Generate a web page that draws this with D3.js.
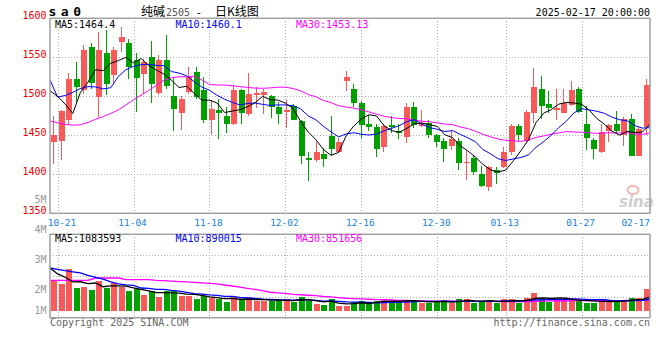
<!DOCTYPE html>
<html><head><meta charset="utf-8">
<script src="https://cdn.jsdelivr.net/npm/d3@7/dist/d3.min.js"></script>
<style>body{margin:0;background:#fff;}svg{display:block;}</style>
</head><body><svg id="c" width="660" height="360"></svg>
<script>
const dates = ["10-18","10-21","10-22","10-23","10-24","10-25","10-28","10-29","10-30","10-31","11-01",
"11-04","11-05","11-06","11-07","11-08","11-11","11-12","11-13","11-14","11-15",
"11-18","11-19","11-20","11-21","11-22","11-25","11-26","11-27","11-28","11-29",
"12-02","12-03","12-04","12-05","12-06","12-09","12-10","12-11","12-12","12-13",
"12-16","12-17","12-18","12-19","12-20","12-23","12-24","12-25","12-26","12-27",
"12-30","12-31","01-02","01-03","01-06","01-07","01-08","01-09","01-10",
"01-13","01-14","01-15","01-16","01-17","01-20","01-21","01-22","01-23","01-24",
"01-27","02-05","02-06","02-07","02-10","02-11","02-12","02-13","02-14","02-17"];
const openP  = [1441,1443,1470,1522,1508,1563,1499,1555,1527,1569,1568,1547,1528,1550,1504,1547,1500,1478,1505,1531,
1508,1469,1482,1475,1465,1508,1477,1502,1502,1500,1486,1480,1487,1468,1421,1418,1426,1449,1429,1520,
1510,1491,1464,1461,1435,1463,1455,1448,1486,1462,1466,1450,1443,1436,1443,1414,1421,1400,1384,1406,
1409,1428,1462,1443,1479,1509,1490,1482,1479,1489,1510,1465,1444,1428,1455,1465,1450,1471,1424,1461];
const highP  = [1475,1483,1530,1544,1566,1568,1583,1585,1563,1589,1573,1555,1548,1571,1553,1578,1523,1500,1538,1538,
1525,1495,1496,1486,1515,1510,1530,1512,1510,1502,1493,1495,1490,1470,1428,1442,1434,1475,1446,1532,
1516,1494,1476,1465,1465,1475,1465,1492,1493,1482,1469,1452,1446,1457,1446,1431,1425,1411,1411,1410,
1435,1465,1465,1483,1536,1526,1507,1509,1510,1519,1512,1488,1447,1465,1465,1481,1474,1477,1461,1522];
const lowP   = [1413,1418,1465,1493,1503,1510,1473,1502,1516,1557,1522,1480,1503,1491,1502,1509,1455,1457,1503,1497,
1466,1450,1445,1453,1463,1465,1475,1485,1477,1472,1465,1459,1469,1413,1392,1416,1409,1423,1427,1507,
1486,1446,1456,1422,1428,1453,1445,1440,1460,1461,1447,1435,1416,1431,1406,1393,1399,1384,1378,1387,
1408,1425,1442,1441,1466,1471,1479,1470,1478,1487,1478,1431,1419,1427,1441,1452,1436,1423,1423,1450];
const closeP = [1450,1481,1522,1512,1559,1517,1560,1516,1560,1576,1538,1524,1544,1516,1546,1513,1484,1497,1525,1499,
1470,1484,1479,1464,1508,1479,1503,1504,1506,1486,1477,1483,1470,1423,1418,1429,1419,1433,1441,1525,
1492,1463,1461,1433,1462,1461,1453,1486,1463,1466,1450,1442,1432,1445,1415,1416,1403,1385,1409,1402,
1428,1462,1450,1480,1512,1488,1485,1485,1491,1508,1480,1447,1432,1454,1463,1455,1471,1424,1458,1514];
// volume, millions of lots
const volume = [2.37,2.11,3.29,1.79,1.87,1.63,2.34,1.82,2.15,1.84,1.55,1.68,1.24,1.55,1.08,1.58,1.55,1.18,1.18,0.92,
1.18,1.03,0.89,0.71,1.05,0.84,1.05,0.77,0.77,0.73,0.89,0.92,0.69,1.10,0.73,0.55,0.45,0.92,0.37,0.37,
0.71,0.77,0.63,0.77,0.84,0.77,0.71,0.84,0.77,0.61,0.58,0.77,0.84,0.58,0.92,0.92,0.58,0.77,0.77,0.63,
0.92,0.92,0.63,1.03,1.42,1.03,0.71,0.84,0.92,0.84,0.77,0.63,0.63,0.84,0.77,0.85,0.79,1.02,1.03,1.70];
// moving-average values before enough history is visible
const ma5Head  = [1507,1500,1490,1478];
const ma10Head = [1521,1499,1501,1505,1510,1512.4,1512,1509.5,1511];
const ma30Head = [1468.4,1466,1464,1463,1463.5,1466.5,1470.5,1474,1478,1482.5,1489,1495.5,1501.5,1507.5,1514,
1520.5,1524,1525,1525,1525.8,1521,1515,1514.5,1514.5,1513.5,1512.4,1511.4,1510.5,1510.3];
const vma5Head  = [3.37,2.9,2.64,2.27];
const vma10Head = [3.37,3.27,3.16,3.07,2.98,2.78,2.64,2.5,2.27];
const vma30Head = [2.4,2.4,2.4,2.4,2.4,2.4,2.58,2.58,2.58,2.58,2.45,2.45,2.45,2.45,2.4,2.37,2.33,2.3,2.27,
2.23,2.19,2.15,2.11,2.03,1.95,1.86,1.77,1.68,1.58];
const priceTicks = [1350,1400,1450,1500,1550,1600];
const volTicks = [1,2,3,4,5];
const volTickLabels = ["1M","2M","3M","4M","5M"];
const dateTicks = ["10-21","11-04","11-18","12-02","12-16","12-30","01-13","01-27","02-17"];
const priceMaLabels = ["MA5:1464.4","MA10:1460.1","MA30:1453.13"];
const volMaLabels = ["MA5:1083593","MA10:890015","MA30:851656"];
const titleSymbol = "sa0";
const titleName = "纯碱";
const titleCode = "2505";
const titleKind = "日K线图";
const stamp = "2025-02-17 20:00:00";

function ma(arr, p, head){
  return arr.map((v,i)=> i < p-1 ? head[i] : d3.mean(arr.slice(i-p+1,i+1)));
}
const ma5 = ma(closeP,5,ma5Head), ma10 = ma(closeP,10,ma10Head), ma30 = ma(closeP,30,ma30Head);
const vma5 = ma(volume,5,vma5Head), vma10 = ma(volume,10,vma10Head), vma30 = ma(volume,30,vma30Head);

const n = closeP.length;
const X0=50, X1=650, PT=18.3, PB=213.3, VT=234.3, VB=317.7;
const RED="#f85a5a", GREEN="#00a000";
const MONO="'DejaVu Sans Mono','Liberation Mono',monospace";
const CJK="'Noto Sans CJK SC','Noto Sans',sans-serif";
const svg = d3.select("#c");

const xB = d3.scaleBand().domain(d3.range(n)).range([X0,X1]);   // candles & bars
const xG = d3.scalePoint().domain(d3.range(n)).range([X0,X1]);  // grid & MA lines
const yP = d3.scaleLinear().domain([1350,1600]).range([PB,PT]);
const yV = d3.scaleLinear().domain([0,6]).range([310.7,234.7]);
const yVL = d3.scaleLinear().domain([4,3]).range([VT,VT+30]);

const defs = svg.append("defs");
defs.append("clipPath").attr("id","cp").append("rect").attr("x",X0).attr("y",PT).attr("width",X1-X0).attr("height",PB-PT);
defs.append("clipPath").attr("id","cv").append("rect").attr("x",X0).attr("y",VT).attr("width",X1-X0).attr("height",VB-VT);

// grid
const grid = svg.append("g").attr("stroke","#b0b0b0").attr("stroke-dasharray","1,2").attr("shape-rendering","crispEdges");
priceTicks.filter(t=>t>1350&&t<1600).forEach(t=>{
  grid.append("line").attr("x1",X0).attr("x2",X1).attr("y1",Math.round(yP(t))+0.5).attr("y2",Math.round(yP(t))+0.5);
});
[1,2,3].forEach(k=>{
  const y = Math.round(VT + k*(VB-VT)/4)+0.5;
  grid.append("line").attr("x1",X0).attr("x2",X1).attr("y1",y).attr("y2",y);
});
dateTicks.forEach(t=>{
  const x = Math.round(xG(dates.indexOf(t)))+0.5;
  if (x < X1-2) {
    grid.append("line").attr("x1",x).attr("x2",x).attr("y1",PT).attr("y2",PB);
    grid.append("line").attr("x1",x).attr("x2",x).attr("y1",VT).attr("y2",VB+2);
  }
});

// watermark
const wm = svg.append("g");
wm.append("text").attr("x",619).attr("y",207).attr("font-family","'DejaVu Sans',sans-serif").attr("font-weight","bold")
  .attr("font-style","italic").attr("font-size",15).attr("fill","#cfcfcf").text("sina");
wm.append("ellipse").attr("cx",633).attr("cy",190).attr("rx",5.5).attr("ry",4).attr("fill","none").attr("stroke","#f2b8b8").attr("stroke-width",2);

// candles
const cg = svg.append("g").attr("clip-path","url(#cp)").attr("shape-rendering","crispEdges");
d3.range(n).forEach(i=>{
  const up = closeP[i] >= openP[i];
  const col = up ? RED : GREEN;
  const x = Math.round(xB(i));
  cg.append("line").attr("x1",x+3.5).attr("x2",x+3.5).attr("y1",yP(highP[i])).attr("y2",yP(lowP[i])).attr("stroke",col);
  const y0 = yP(Math.max(openP[i],closeP[i])), y1 = yP(Math.min(openP[i],closeP[i]));
  cg.append("rect").attr("x",x+1).attr("width",6).attr("y",y0).attr("height",Math.max(1,y1-y0)).attr("fill",col);
});
const lineP = arr => d3.line().x((d,i)=>xG(i)).y(d=>yP(d))(arr);
const mg = svg.append("g").attr("clip-path","url(#cp)").attr("fill","none").attr("stroke-width",1);
mg.append("path").attr("d",lineP(ma30)).attr("stroke","#ff00ff");
mg.append("path").attr("d",lineP(ma10)).attr("stroke","#0000ff");
mg.append("path").attr("d",lineP(ma5)).attr("stroke","#000000");

// volume bars
const vg = svg.append("g").attr("clip-path","url(#cv)").attr("shape-rendering","crispEdges");
d3.range(n).forEach(i=>{
  const col = closeP[i] >= openP[i] ? RED : GREEN;
  const x = Math.round(xB(i));
  vg.append("rect").attr("x",x+1).attr("width",6).attr("y",yV(volume[i])).attr("height",yV(0)-yV(volume[i])).attr("fill",col);
});
const lineV = arr => d3.line().x((d,i)=>xG(i)).y(d=>yV(d))(arr);
const vmg = svg.append("g").attr("clip-path","url(#cv)").attr("fill","none").attr("stroke-width",1.3);
vmg.append("path").attr("d",lineV(vma30)).attr("stroke","#ff00ff");
vmg.append("path").attr("d",lineV(vma10)).attr("stroke","#0000ff");
vmg.append("path").attr("d",lineV(vma5)).attr("stroke","#000000");

// borders
svg.append("rect").attr("x",X0).attr("y",PT).attr("width",X1-X0).attr("height",PB-PT).attr("fill","none").attr("stroke","#a0a0a0").attr("stroke-width",1.5);
svg.append("rect").attr("x",X0).attr("y",VT).attr("width",X1-X0).attr("height",VB-VT).attr("fill","none").attr("stroke","#a0a0a0").attr("stroke-width",1.5);

// axis labels
const tg = svg.append("g").attr("font-family",MONO).attr("font-size",10);
priceTicks.forEach(t=>{
  tg.append("text").attr("x",46.5).attr("y",yP(t)+1).attr("text-anchor","end").attr("fill","#ee0000").text(t);
});
volTicks.forEach((t,k)=>{
  tg.append("text").attr("x",46.5).attr("y",Math.min(yVL(t)-1,313.5)).attr("text-anchor","end").attr("fill","#999").text(volTickLabels[k]);
});
dateTicks.forEach(t=>{
  const x = xG(dates.indexOf(t));
  const last = x > X1-16;
  tg.append("text").attr("x",last?X1:Math.max(x-1,62)).attr("y",225.5).attr("text-anchor",last?"end":"middle")
    .attr("font-size",9.5).attr("fill","#1a7fd8").text(t);
});
const maCols = ["#000","#0000ff","#ff00ff"];
const maX = [55,175.5,296];
priceMaLabels.forEach((s,k)=> tg.append("text").attr("x",maX[k]).attr("y",28).attr("fill",maCols[k]).text(s));
volMaLabels.forEach((s,k)=> tg.append("text").attr("x",maX[k]).attr("y",242).attr("fill",maCols[k]).text(s));

// header
svg.append("text").attr("x",48.5).attr("y",16).attr("font-family",MONO).attr("font-weight","bold").attr("font-size",13)
  .attr("letter-spacing",4.5).attr("fill","#000").text(titleSymbol);
const tt = svg.append("text").attr("y",16).attr("fill","#000");
tt.append("tspan").attr("x",141).attr("font-family",CJK).attr("font-size",12).text(titleName);
tt.append("tspan").attr("x",166).attr("font-family",MONO).attr("font-size",10).attr("fill","#555").text(titleCode);
tt.append("tspan").attr("x",195.5).attr("font-family",MONO).attr("font-size",11).text("-");
tt.append("tspan").attr("x",215).attr("font-family",CJK).attr("font-size",12).text(titleKind);
svg.append("text").attr("x",650).attr("y",16).attr("text-anchor","end").attr("font-family",MONO).attr("font-size",10).attr("fill","#000").text(stamp);

// footer
svg.append("text").attr("x",50).attr("y",326).attr("font-family",MONO).attr("font-size",10).attr("fill","#666").text("Copyright 2025 SINA.COM");
svg.append("text").attr("x",650).attr("y",326).attr("text-anchor","end").attr("font-family",MONO).attr("font-size",10).attr("fill","#666").text("http://finance.sina.com.cn");
</script></body></html>
